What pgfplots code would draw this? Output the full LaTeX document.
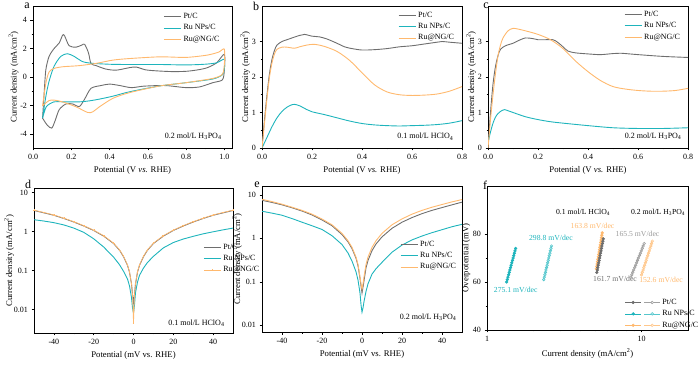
\documentclass[border=0pt]{standalone}
\usepackage{fontspec}
\setmainfont{Liberation Serif}
\usepackage{pgfplots}
\pgfplotsset{compat=1.18}
\definecolor{cgray}{RGB}{110,110,110}
\definecolor{cteal}{RGB}{30,180,188}
\definecolor{corange}{RGB}{255,185,110}
\pgfplotsset{panel/.style={
 scale only axis, anchor=north west,
 axis line style={line width=0.6pt},
 tick align=outside, xtick pos=bottom, ytick pos=left,
 major tick length=2.5pt, minor tick length=1.5pt,
 tick style={black, line width=0.5pt},
 tick label style={font=\fontsize{8}{9}\selectfont},
 label style={font=\fontsize{8.7}{10}\selectfont},
 ylabel shift=-5pt,
 /pgf/number format/assume math mode=true,
 legend style={draw=none, fill=none, font=\fontsize{8}{9}\selectfont, inner sep=0pt, row sep=0.6pt, anchor=north west},
 legend cell align=left,
 every axis plot/.append style={line width=0.9pt},
},
fixone/.style={/pgf/number format/.cd, fixed, fixed zerofill, precision=1}}
\begin{document}
\begin{tikzpicture}
\useasboundingbox (0pt,0pt) rectangle (700pt,366pt);
% ---------------- a
\begin{axis}[panel, at={(33pt,360pt)}, width=199pt, height=142pt,
 xmin=0, xmax=1.04, ymin=-5, ymax=5,
 xtick={0,0.2,0.4,0.6,0.8,1.0}, ytick={-4,-2,0,2,4},
 minor x tick num=1, minor y tick num=1,
 xticklabel style={fixone},
 xlabel={Potential (V \textit{vs.} RHE)}, ylabel={Current density (mA/cm\textsuperscript{2})},
 legend style={at={(0.655,0.965)}}]
\addplot[cgray, smooth, tension=0.45] coordinates {(0.05,-2.9) (0.058,-1.2) (0.067,0.5) (0.084,1.45) (0.11,2.0) (0.137,2.4) (0.155,2.95) (0.165,2.9) (0.189,2.2) (0.225,2.1) (0.255,2.25) (0.27,2.3) (0.29,1.7) (0.303,0.95) (0.33,0.8) (0.38,0.56) (0.435,0.48) (0.505,0.66) (0.54,0.7) (0.59,0.5) (0.66,0.42) (0.73,0.38) (0.8,0.4) (0.86,0.5) (0.91,0.65) (0.96,1.0) (1.0,1.6) (1.0,0.5) (0.99,-0.2) (0.94,-0.4) (0.87,-0.7) (0.8,-0.75) (0.71,-0.62) (0.66,-0.6) (0.575,-0.65) (0.514,-0.75) (0.453,-0.6) (0.4,-0.5) (0.356,-0.6) (0.303,-0.8) (0.268,-1.6) (0.242,-2.08) (0.207,-1.9) (0.172,-1.9) (0.137,-2.3) (0.115,-3.1) (0.098,-3.6) (0.075,-3.4) (0.05,-2.9)};
\addlegendentry{Pt/C}
\addplot[cteal, smooth, tension=0.45] coordinates {(0.05,-2.9) (0.067,-1.38) (0.084,-0.3) (0.11,0.75) (0.145,1.45) (0.18,1.64) (0.215,1.45) (0.26,1.08) (0.313,0.96) (0.418,0.89) (0.55,0.88) (0.663,0.88) (0.8,0.85) (0.9,0.9) (0.96,1.0) (1.0,1.25) (1.0,0.6) (0.99,0.16) (0.94,-0.14) (0.8,-0.4) (0.663,-0.63) (0.505,-1.04) (0.418,-1.35) (0.35,-1.55) (0.295,-1.68) (0.242,-1.75) (0.154,-1.75) (0.11,-1.75) (0.07,-2.08) (0.05,-2.9)};
\addlegendentry{Ru NPs/C}
\addplot[corange, smooth, tension=0.45] coordinates {(0.05,-2.03) (0.067,-0.45) (0.084,0.35) (0.11,0.6) (0.154,0.72) (0.242,0.8) (0.33,0.96) (0.418,1.19) (0.505,1.3) (0.663,1.42) (0.8,1.38) (0.91,1.54) (0.97,1.75) (1.0,1.96) (1.0,0.9) (0.99,0.2) (0.94,-0.1) (0.8,-0.4) (0.663,-0.63) (0.505,-1.1) (0.418,-1.5) (0.347,-2.1) (0.313,-2.45) (0.286,-2.5) (0.225,-2.1) (0.154,-1.75) (0.11,-1.63) (0.084,-1.66) (0.05,-2.03)};
\addlegendentry{Ru@NG/C}
\node[anchor=east, font=\fontsize{8}{9}\selectfont] at (rel axis cs:0.965,0.08) {0.2 mol/L H\textsubscript{3}PO\textsubscript{4}};
\end{axis}
% ---------------- b
\begin{axis}[panel, at={(262pt,360pt)}, width=200pt, height=142pt,
 xmin=0, xmax=0.8, ymin=0, ymax=4,
 xtick={0,0.2,0.4,0.6,0.8}, ytick={0,1,2,3},
 minor x tick num=1, minor y tick num=1,
 xticklabel style={fixone},
 xlabel={Potential (V \textit{vs.} RHE)}, ylabel={Current density (mA/cm\textsuperscript{2})},
 legend style={at={(0.68,0.975)}}]
\addplot[cgray, smooth, tension=0.5] coordinates {(0,0) (0.01,0.8) (0.02,1.5) (0.03,2.1) (0.04,2.5) (0.05,2.75) (0.06,2.9) (0.08,3.0) (0.1,3.05) (0.12,3.1) (0.15,3.17) (0.17,3.2) (0.2,3.15) (0.23,3.13) (0.26,3.07) (0.3,2.95) (0.33,2.85) (0.36,2.8) (0.4,2.76) (0.45,2.77) (0.5,2.8) (0.55,2.85) (0.6,2.88) (0.65,2.93) (0.7,2.98) (0.72,3.0) (0.75,2.98) (0.8,2.95)};
\addlegendentry{Pt/C}
\addplot[cteal, smooth, tension=0.5] coordinates {(0,0) (0.02,0.3) (0.04,0.6) (0.06,0.85) (0.08,1.03) (0.1,1.15) (0.12,1.22) (0.13,1.23) (0.15,1.19) (0.18,1.08) (0.2,1.02) (0.25,0.94) (0.3,0.85) (0.35,0.76) (0.4,0.69) (0.45,0.65) (0.5,0.63) (0.55,0.62) (0.6,0.63) (0.65,0.64) (0.7,0.66) (0.75,0.7) (0.8,0.77)};
\addlegendentry{Ru NPs/C}
\addplot[corange, smooth, tension=0.5] coordinates {(0,0) (0.01,0.7) (0.02,1.4) (0.03,2.0) (0.04,2.4) (0.05,2.65) (0.06,2.78) (0.08,2.84) (0.1,2.84) (0.13,2.81) (0.15,2.85) (0.18,2.9) (0.21,2.92) (0.25,2.86) (0.3,2.72) (0.35,2.47) (0.4,2.12) (0.45,1.78) (0.5,1.58) (0.55,1.5) (0.6,1.48) (0.65,1.49) (0.7,1.52) (0.75,1.6) (0.8,1.73)};
\addlegendentry{Ru@NG/C}
\node[anchor=east, font=\fontsize{8}{9}\selectfont] at (rel axis cs:0.975,0.08) {0.1 mol/L HClO\textsubscript{4}};
\end{axis}
% ---------------- c
\begin{axis}[panel, at={(488pt,360pt)}, width=200pt, height=142pt,
 xmin=0, xmax=0.8, ymin=0, ymax=4,
 xtick={0,0.2,0.4,0.6,0.8}, ytick={0,1,2,3},
 minor x tick num=1, minor y tick num=1,
 xticklabel style={fixone},
 xlabel={Potential (V \textit{vs.} RHE)}, ylabel={Current density (mA/cm\textsuperscript{2})},
 legend style={at={(0.68,0.98)}}]
\addplot[cgray, smooth, tension=0.5] coordinates {(0,0) (0.01,1.0) (0.02,1.8) (0.03,2.3) (0.04,2.6) (0.05,2.78) (0.07,2.88) (0.1,2.95) (0.12,3.02) (0.15,3.1) (0.18,3.08) (0.2,3.05) (0.23,3.05) (0.26,3.05) (0.28,2.97) (0.3,2.85) (0.32,2.73) (0.35,2.68) (0.4,2.65) (0.45,2.63) (0.5,2.66) (0.53,2.67) (0.6,2.63) (0.7,2.58) (0.8,2.55)};
\addlegendentry{Pt/C}
\addplot[cteal, smooth, tension=0.5] coordinates {(0,0.15) (0.01,0.45) (0.02,0.7) (0.03,0.87) (0.04,0.97) (0.05,1.03) (0.065,1.08) (0.08,1.05) (0.1,1.0) (0.15,0.88) (0.2,0.8) (0.25,0.74) (0.3,0.7) (0.4,0.63) (0.5,0.57) (0.6,0.55) (0.7,0.55) (0.8,0.57)};
\addlegendentry{Ru NPs/C}
\addplot[corange, smooth, tension=0.5] coordinates {(0,0) (0.01,0.8) (0.02,1.5) (0.03,2.1) (0.04,2.6) (0.05,2.9) (0.06,3.1) (0.08,3.3) (0.1,3.37) (0.12,3.35) (0.15,3.3) (0.2,3.2) (0.25,3.05) (0.3,2.8) (0.35,2.45) (0.4,2.15) (0.45,1.9) (0.5,1.73) (0.55,1.66) (0.6,1.62) (0.65,1.6) (0.7,1.6) (0.75,1.62) (0.8,1.68)};
\addlegendentry{Ru@NG/C}
\node[anchor=east, font=\fontsize{8}{9}\selectfont] at (rel axis cs:0.985,0.08) {0.2 mol/L H\textsubscript{3}PO\textsubscript{4}};
\end{axis}
% ---------------- d
\begin{axis}[panel, at={(34pt,178pt)}, width=199pt, height=145pt,
 xmin=-50, xmax=50, ymode=log, ymin=0.0025, ymax=13,
 xtick={-40,-20,0,20,40}, minor x tick num=1,
 ytick={0.01,0.1,1,10}, log ticks with fixed point, yminorticks=false,
 ylabel shift=-7pt,
 xlabel={Potential (mV vs. RHE)}, ylabel={Current density (mA/cm\textsuperscript{2})},
 legend style={at={(0.85,0.63)}}]
\addplot[cgray] coordinates {(-50,3.45) (-45,3.0) (-40,2.6) (-35,2.15) (-30,1.75) (-25,1.38) (-20,1.06) (-15,0.76) (-10,0.49) (-7,0.33) (-5,0.225) (-3,0.135) (-2,0.09) (-1,0.045) (-0.5,0.024) (0,0.015) (0.5,0.024) (1,0.045) (2,0.09) (3,0.135) (5,0.225) (7,0.33) (10,0.49) (15,0.76) (20,1.06) (25,1.38) (30,1.75) (35,2.15) (40,2.6) (45,3.0) (50,3.45)};
\addlegendentry{Pt/C}
\addplot[cteal] coordinates {(-50,2.0) (-45,1.85) (-40,1.68) (-35,1.47) (-30,1.22) (-25,0.95) (-20,0.65) (-15,0.4) (-10,0.22) (-7,0.14) (-5,0.095) (-3,0.06) (-2,0.04) (-1,0.02) (-0.5,0.011) (0,0.008) (0.5,0.013) (1,0.027) (2,0.05) (3,0.075) (5,0.115) (7,0.16) (10,0.23) (15,0.38) (20,0.52) (25,0.64) (30,0.75) (35,0.87) (40,0.98) (45,1.1) (50,1.22)};
\addlegendentry{Ru NPs/C}
\addplot[corange, line width=0.7pt, mark=+, mark size=0.9pt, mark options={line width=0.4pt}] coordinates {(-50,3.52) (-45,3.06) (-40,2.65) (-35,2.19) (-30,1.78) (-25,1.41) (-20,1.08) (-15,0.78) (-10,0.5) (-7,0.34) (-5,0.23) (-3,0.138) (-2,0.092) (-1,0.046) (-0.5,0.024) (0,0.0045) (0.5,0.024) (1,0.046) (2,0.092) (3,0.138) (5,0.23) (7,0.34) (10,0.5) (15,0.78) (20,1.08) (25,1.41) (30,1.78) (35,2.19) (40,2.65) (45,3.06) (50,3.52)};
\addlegendentry{Ru@NG/C}
\node[anchor=east, font=\fontsize{8}{9}\selectfont] at (rel axis cs:0.975,0.07) {0.1 mol/L HClO\textsubscript{4}};
\end{axis}
% ---------------- e
\begin{axis}[panel, at={(262pt,180pt)}, width=200pt, height=146pt,
 xmin=-50, xmax=50, ymode=log, ymin=0.007, ymax=16,
 xtick={-40,-20,0,20,40}, minor x tick num=1,
 ytick={0.01,0.1,1,10}, log ticks with fixed point, yminorticks=false,
 ylabel shift=-7pt,
 xlabel={Potential (mV vs. RHE)}, ylabel={Current density (mA/cm\textsuperscript{2})},
 legend style={at={(0.69,0.64)}}]
\addplot[cgray] coordinates {(-50,7.5) (-45,6.7) (-40,5.9) (-35,5.05) (-30,4.25) (-25,3.45) (-20,2.65) (-15,1.95) (-10,1.22) (-7,0.83) (-5,0.58) (-3,0.35) (-2,0.235) (-1,0.12) (-0.5,0.08) (0,0.055) (0.5,0.075) (1,0.105) (2,0.21) (3,0.31) (5,0.52) (7,0.74) (10,1.08) (15,1.7) (20,2.35) (25,3.0) (30,3.7) (35,4.4) (40,5.1) (45,5.9) (50,6.8)};
\addlegendentry{Pt/C}
\addplot[cteal] coordinates {(-50,4.2) (-45,3.8) (-40,3.4) (-35,2.85) (-30,2.35) (-25,1.95) (-20,1.6) (-15,1.15) (-10,0.72) (-7,0.46) (-5,0.3) (-3,0.17) (-2,0.11) (-1,0.055) (-0.5,0.03) (0,0.02) (0.5,0.025) (1,0.035) (2,0.06) (3,0.09) (5,0.15) (7,0.2) (10,0.28) (15,0.48) (20,0.7) (25,0.92) (30,1.13) (35,1.35) (40,1.58) (45,1.85) (50,2.1)};
\addlegendentry{Ru NPs/C}
\addplot[corange] coordinates {(-50,7.9) (-45,7.0) (-40,6.1) (-35,5.2) (-30,4.4) (-25,3.6) (-20,2.78) (-15,2.05) (-10,1.3) (-7,0.88) (-5,0.62) (-3,0.37) (-2,0.25) (-1,0.13) (-0.5,0.09) (0,0.068) (0.5,0.09) (1,0.13) (2,0.25) (3,0.37) (5,0.62) (7,0.88) (10,1.3) (15,2.05) (20,2.8) (25,3.6) (30,4.4) (35,5.2) (40,6.0) (45,6.9) (50,7.8)};
\addlegendentry{Ru@NG/C}
\node[anchor=east, font=\fontsize{8}{9}\selectfont] at (rel axis cs:0.99,0.10) {0.2 mol/L H\textsubscript{3}PO\textsubscript{4}};
\end{axis}
% ---------------- f
\begin{axis}[panel, at={(487pt,180pt)}, width=201pt, height=144pt,
 xmode=log, xmin=1, xmax=20, ymin=40, ymax=100,
 xtick={1,10}, log ticks with fixed point,
 ytick={40,60,80}, minor y tick num=1,
 ylabel shift=-4pt,
 xlabel={Current density (mA/cm\textsuperscript{2})}, ylabel={Overpotential (mV)},
 legend style={at={(0.685,0.23)}},
 every axis plot/.append style={line width=0.6pt, mark size=1.3pt}]
\addplot[cteal, mark=*, forget plot] coordinates {(1.34,60) (1.3529,61) (1.3659,62) (1.3790,63) (1.3923,64) (1.4057,65) (1.4192,66) (1.4328,67) (1.4466,68) (1.4605,69) (1.4745,70) (1.4887,71) (1.5030,72) (1.5175,73) (1.5321,74)};
\addplot[cteal!75, mark=o, mark options={fill=white}, forget plot] coordinates {(2.33,61) (2.3493,62) (2.3687,63) (2.3883,64) (2.4081,65) (2.4280,66) (2.4481,67) (2.4684,68) (2.4888,69) (2.5094,70) (2.5302,71) (2.5511,72) (2.5723,73) (2.5936,74) (2.6150,75)};
\addplot[corange, mark=*, forget plot] coordinates {(5.10,65.5) (5.1301,66.5) (5.1603,67.5) (5.1907,68.5) (5.2213,69.5) (5.2521,70.5) (5.2830,71.5) (5.3142,72.5) (5.3455,73.5) (5.3770,74.5) (5.4087,75.5) (5.4406,76.5) (5.4727,77.5) (5.5049,78.5) (5.5374,79.5) (5.5700,80.5)};
\addplot[cgray, mark=*, forget plot] coordinates {(5.14,64) (5.1755,65) (5.2113,66) (5.2473,67) (5.2835,68) (5.3200,69) (5.3568,70) (5.3938,71) (5.4310,72) (5.4685,73) (5.5063,74) (5.5444,75) (5.5827,76) (5.6212,77) (5.6601,78)};
\addplot[cgray!65, mark=o, mark options={fill=white}, forget plot] coordinates {(8.53,62) (8.6516,63) (8.7750,64) (8.9001,65) (9.0271,66) (9.1558,67) (9.2863,68) (9.4188,69) (9.5531,70) (9.6893,71) (9.8275,72) (9.9676,73) (10.1098,74) (10.2539,75) (10.4001,76)};
\addplot[corange!80, mark=o, mark options={fill=white}, forget plot] coordinates {(10.0,63) (10.1159,64) (10.2331,65) (10.3516,66) (10.4716,67) (10.5929,68) (10.7156,69) (10.8398,70) (10.9654,71) (11.0924,72) (11.2209,73) (11.3509,74) (11.4824,75) (11.6155,76) (11.7501,77)};
\addlegendimage{legend image code/.code={\draw[cgray, line width=0.6pt] (0pt,0pt) -- (16pt,0pt); \fill[cgray] (8pt,0pt) circle (1.3pt); \draw[cgray!65, line width=0.6pt] (19pt,0pt) -- (35pt,0pt); \draw[cgray!65, line width=0.6pt, fill=white] (27pt,0pt) circle (1.3pt);}}
\addlegendentry{Pt/C}
\addlegendimage{legend image code/.code={\draw[cteal, line width=0.6pt] (0pt,0pt) -- (16pt,0pt); \fill[cteal] (8pt,0pt) circle (1.3pt); \draw[cteal!75, line width=0.6pt] (19pt,0pt) -- (35pt,0pt); \draw[cteal!75, line width=0.6pt, fill=white] (27pt,0pt) circle (1.3pt);}}
\addlegendentry{Ru NPs/C}
\addlegendimage{legend image code/.code={\draw[corange, line width=0.6pt] (0pt,0pt) -- (16pt,0pt); \fill[corange] (8pt,0pt) circle (1.3pt); \draw[corange!80, line width=0.6pt] (19pt,0pt) -- (35pt,0pt); \draw[corange!80, line width=0.6pt, fill=white] (27pt,0pt) circle (1.3pt);}}
\addlegendentry{Ru@NG/C}
\begin{scope}[font=\fontsize{7.7}{9}\selectfont]
\node at (rel axis cs:0.478,0.82) {0.1 mol/L HClO\textsubscript{4}};
\node at (rel axis cs:0.851,0.82) {0.2 mol/L H\textsubscript{3}PO\textsubscript{4}};
\node[text=corange] at (rel axis cs:0.525,0.722) {163.8 mV/dec};
\node[text=cteal] at (rel axis cs:0.318,0.639) {298.8 mV/dec};
\node[text=cgray!70] at (rel axis cs:0.749,0.665) {165.5 mV/dec};
\node[text=cteal] at (rel axis cs:0.143,0.278) {275.1 mV/dec};
\node[text=cgray] at (rel axis cs:0.637,0.354) {161.7 mV/dec};
\node[text=corange] at (rel axis cs:0.866,0.347) {152.6 mV/dec};
\end{scope}
\end{axis}
% letters
\begin{scope}[font=\fontsize{12}{12}\selectfont]
\node at (27pt,360pt) {a};
\node at (256pt,360pt) {b};
\node at (486pt,360pt) {c};
\node at (28pt,182pt) {d};
\node at (257pt,181pt) {e};
\node at (485pt,181pt) {f};
\end{scope}
\end{tikzpicture}
\end{document}
